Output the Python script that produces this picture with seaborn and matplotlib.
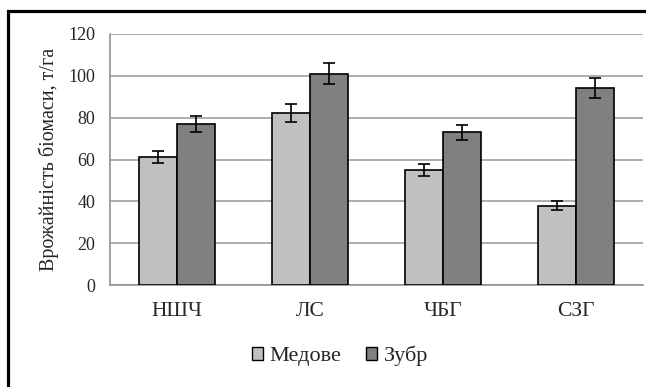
import numpy as np
import pandas as pd
import matplotlib
matplotlib.use("Agg")
import matplotlib.pyplot as plt
from matplotlib.patches import Rectangle, Patch
import seaborn as sns

# Biomass yield by site for two varieties
categories = ["НШЧ", "ЛС", "ЧБГ", "СЗГ"]
varieties = ["Медове", "Зубр"]
medove = [61, 82, 55, 38]
zubr = [77, 101, 73, 94]
medove_err = [2.9, 4.3, 2.9, 2.1]
zubr_err = [4.0, 5.1, 3.7, 4.8]
yticks = [0, 20, 40, 60, 80, 100, 120]

colors = ["#c0c0c0", "#808080"]

df = pd.DataFrame({
    "site": categories * 2,
    "variety": [varieties[0]] * len(categories) + [varieties[1]] * len(categories),
    "yield": medove + zubr,
    "err": medove_err + zubr_err,
})

sns.set_style("white")
plt.rcParams["font.family"] = ["Liberation Serif", "DejaVu Serif"]

W, H = 646, 387
fig = plt.figure(figsize=(W / 100, H / 100), dpi=100)
ax = fig.add_axes([110 / W, (H - 285) / H, (643 - 110) / W, (285 - 34) / H])

sns.barplot(data=df, x="site", y="yield", hue="variety", order=categories,
            hue_order=varieties, palette=colors, width=0.57, errorbar=None,
            edgecolor="black", linewidth=1.2, saturation=1, ax=ax, legend=False,
            zorder=3)

# Error bars placed on the centre of every drawn bar
for cont, errs in zip(ax.containers, [medove_err, zubr_err]):
    xs = [p.get_x() + p.get_width() / 2 for p in cont.patches]
    hs = [p.get_height() for p in cont.patches]
    ax.errorbar(xs, hs, yerr=errs, fmt="none", ecolor="black", elinewidth=1.2,
                capsize=4, capthick=1.2, zorder=4)

ax.set_ylim(0, 120)
ax.set_xlim(-0.5, len(categories) - 0.5)
ax.set_yticks(yticks)
ax.set_yticklabels([str(v) for v in yticks], fontsize=13)
ax.yaxis.grid(True, color="#a0a0a0", linewidth=1.2, zorder=0)
ax.set_axisbelow(True)

ax.set_xticks(range(len(categories)))
ax.set_xticklabels(categories, fontsize=15.5)
ax.set_xticks(np.arange(-0.5, len(categories), 1.0), minor=True)
ax.tick_params(axis="x", which="major", length=0, pad=12)
ax.tick_params(axis="x", which="minor", length=4.5, width=1.2, color="#909090", direction="out")
ax.tick_params(axis="y", length=4.5, width=1.2, color="#909090", direction="out", pad=6)

for side in ["top", "right"]:
    ax.spines[side].set_visible(False)
for side in ["left", "bottom"]:
    ax.spines[side].set_color("#909090")
    ax.spines[side].set_linewidth(1.2)

ax.set_xlabel("")
ax.set_ylabel("Врожайність біомаси, т/га", fontsize=14.5, labelpad=7)

handles = [Patch(facecolor=c, edgecolor="black", linewidth=1.0) for c in colors]
fig.legend(handles, varieties, loc="center", bbox_to_anchor=(340 / W, (H - 356) / H),
           ncol=2, frameon=False, prop={"family": "Liberation Serif", "size": 16},
           handlelength=0.5, handleheight=0.5, handletextpad=0.3, columnspacing=1.1)

# Outer chart frame, open past the right and bottom edges
fig.patches.append(Rectangle((7.5 / W, -0.1), 1.2, 1.1 - 11.5 / H,
                             transform=fig.transFigure, fill=False,
                             edgecolor="black", linewidth=2.3, zorder=10))

fig.savefig("out.png", dpi=100)
